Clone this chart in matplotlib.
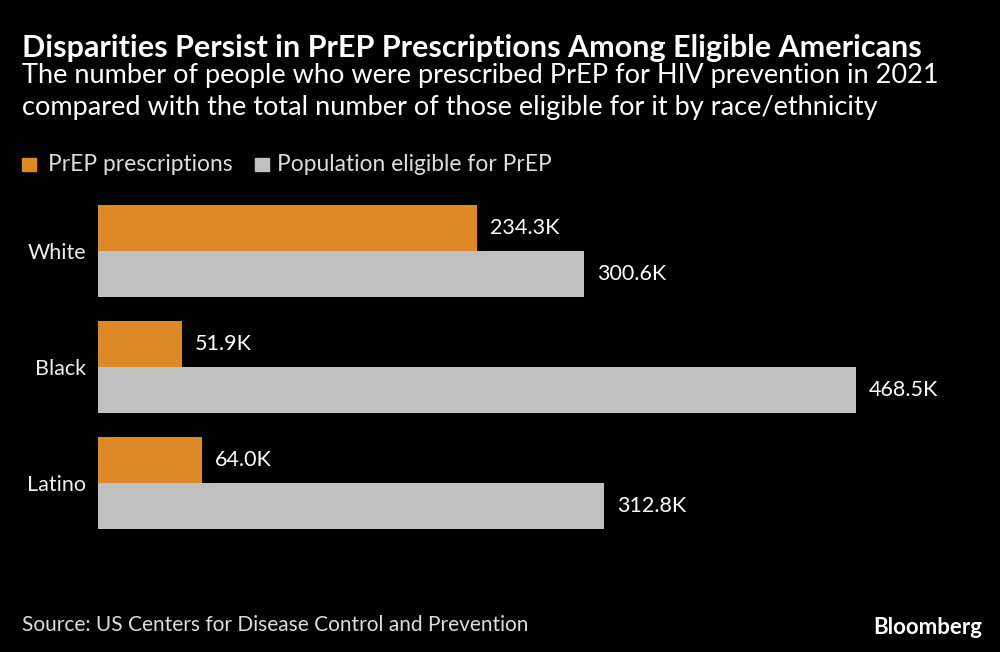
import matplotlib
matplotlib.use('Agg')
import matplotlib.pyplot as plt

categories = ['White', 'Black', 'Latino']
prescriptions = [234.3, 51.9, 64.0]
eligible = [300.6, 468.5, 312.8]
series_names = ['PrEP prescriptions', 'Population eligible for PrEP']

orange = '#DD8A26'
grey = '#C0C0C0'
plt.rcParams['font.family'] = ['Lato', 'DejaVu Sans']

fig = plt.figure(figsize=(10, 6.52), dpi=100, facecolor='black')
ax = fig.add_axes([0.098, 0.1887, 0.882, 0.4969], facecolor='black')

h = 0.397
ypos = list(range(len(categories)))
ax.barh([y - h/2 for y in ypos], prescriptions, height=h, color=orange)
ax.barh([y + h/2 for y in ypos], eligible, height=h, color=grey)

for y, v in zip(ypos, prescriptions):
    ax.text(v + 8, y - h/2, f'{v:.1f}K', color='white', fontsize=15.5, va='center', ha='left')
for y, v in zip(ypos, eligible):
    ax.text(v + 8, y + h/2, f'{v:.1f}K', color='white', fontsize=15.5, va='center', ha='left')

ax.set_xlim(0, 545.1)
ax.set_ylim(len(categories) - 1 + h, -h)
ax.set_yticks(ypos)
ax.set_yticklabels(categories, color='#EEEEEE', fontsize=15.5)
ax.tick_params(axis='y', length=0, pad=8.5)
ax.set_xticks([])
for s in ax.spines.values():
    s.set_visible(False)

fig.text(0.022, 0.9125, 'Disparities Persist in PrEP Prescriptions Among Eligible Americans',
         color='white', fontsize=22, fontweight='bold', ha='left', va='baseline')
fig.text(0.022, 0.873, 'The number of people who were prescribed PrEP for HIV prevention in 2021',
         color='white', fontsize=19.5, ha='left', va='baseline')
fig.text(0.022, 0.824, 'compared with the total number of those eligible for it by race/ethnicity',
         color='white', fontsize=19.5, ha='left', va='baseline')

# legend
fig.patches.append(plt.Rectangle((0.022, 0.737), 0.014, 0.021, transform=fig.transFigure, color=orange))
fig.text(0.048, 0.737, series_names[0], color='#DDDDDD', fontsize=16.4, ha='left', va='baseline')
fig.patches.append(plt.Rectangle((0.255, 0.737), 0.014, 0.021, transform=fig.transFigure, color=grey))
fig.text(0.277, 0.737, series_names[1], color='#DDDDDD', fontsize=16.4, ha='left', va='baseline')

fig.text(0.022, 0.032, 'Source: US Centers for Disease Control and Prevention',
         color='#DDDDDD', fontsize=15, ha='left', va='baseline')
fig.text(0.982, 0.027, 'Bloomberg', color='white', fontsize=16, fontweight='bold',
         ha='right', va='baseline')

fig.savefig('out.png', dpi=100, facecolor='black')
